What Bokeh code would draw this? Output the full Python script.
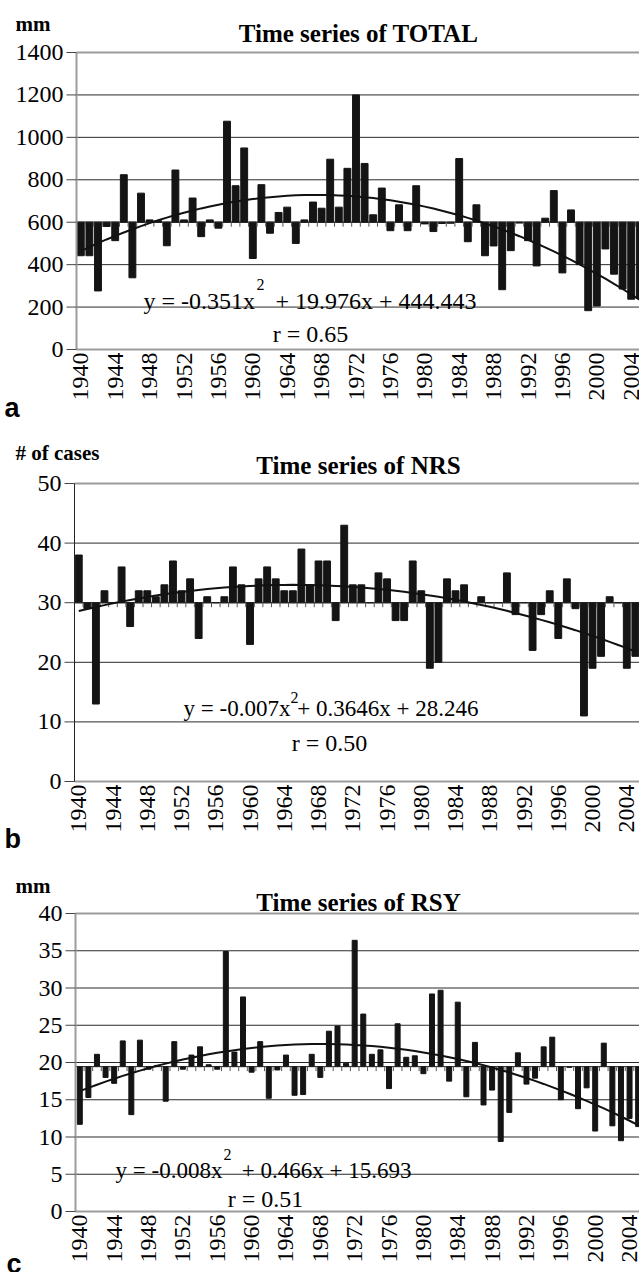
import math
import numpy as np
from bokeh.plotting import figure
from bokeh.layouts import column
from bokeh.models import Range1d, Label
from bokeh.core.properties import value
from bokeh.embed import file_html
from bokeh.resources import INLINE

# ---- data -------------------------------------------------------------
years = list(range(1940, 2006))

total_mm = [442, 442, 276, 580, 513, 824, 338, 737, 611, 607,
            489, 846, 611, 714, 532, 611, 572, 1076, 772, 950,
            429, 777, 548, 646, 671, 500, 611, 695, 666, 897,
            671, 854, 1200, 877, 635, 761, 560, 682, 560, 772,
            592, 556, 594, 595, 900, 508, 682, 442, 488, 282,
            466, 596, 513, 394, 619, 749, 361, 658, 400, 183,
            205, 474, 355, 285, 237, 240]

nrs_cases = [38, 29, 13, 32, 30, 36, 26, 32, 32, 31,
             33, 37, 32, 34, 24, 31, 30, 31, 36, 33,
             23, 34, 36, 34, 32, 32, 39, 33, 37, 37,
             27, 43, 33, 33, 30, 35, 34, 27, 27, 37,
             32, 19, 20, 34, 32, 33, 30, 31, 30, 30,
             35, 28, 30, 22, 28, 32, 24, 34, 29, 11,
             19, 21, 31, 30, 19, 21]

rsy_mm = [11.7, 15.3, 21.1, 18.0, 17.2, 22.9, 13.0, 23.0, 19.1, 19.6,
          14.8, 22.8, 19.1, 21.0, 22.1, 19.7, 19.1, 34.9, 21.4, 28.8,
          18.7, 22.8, 15.2, 19.0, 21.0, 15.6, 15.7, 21.1, 18.0, 24.2,
          24.9, 19.9, 36.4, 26.5, 21.1, 21.7, 16.5, 25.2, 20.7, 20.9,
          18.5, 29.2, 29.7, 17.5, 28.1, 15.4, 22.7, 14.3, 16.3, 9.4,
          13.3, 21.3, 17.1, 17.9, 22.1, 23.4, 15.0, 19.35, 13.8, 16.6,
          10.8, 22.6, 11.5, 9.5, 12.5, 11.4]

# horizontal axis crossing (bars hang from these)
total_base = 600
nrs_base = 30
rsy_base = 19.45

# polynomial trend coefficients (x = 1 for 1940)
total_fit = [-0.351, 19.976, 444.443]
nrs_fit = [-0.007, 0.3646, 28.246]
rsy_fit = [-0.008, 0.466, 15.693]

year_ticks = list(range(1940, 2005, 4))
total_ticks = list(range(0, 1401, 200))
nrs_ticks = list(range(0, 51, 10))
rsy_ticks = list(range(0, 41, 5))

SERIF = "Liberation Serif"
SANS = "Liberation Sans"
W = 639
GREY = "#9c9c9c"
DARK = "#2a2a2a"


def trend(fit):
    idx = np.arange(1, len(years) + 1)
    return fit[0] * idx ** 2 + fit[1] * idx + fit[2]


def panel(values, base, yticks, fit, bar_w, ax_px, top_px, plot_h, fig_h, px_year,
          axis_color, axis_w, texts):
    """One chart panel; the frame fills the figure and the plot area sits inside it."""
    ymax = yticks[-1]
    px_unit = plot_h / ymax
    x_left = years[0] - 0.5                      # category axis start
    x_right = x_left + (W - ax_px) / px_year
    x0 = x_left - ax_px / px_year
    y0 = -(fig_h - top_px - plot_h) / px_unit
    y1 = ymax + top_px / px_unit

    def dx(px):
        return px / px_year

    def dy(px):
        return px / px_unit

    p = figure(width=W, height=fig_h, x_range=Range1d(x0, x_right), y_range=Range1d(y0, y1),
               output_backend="svg", toolbar_location=None,
               x_axis_type=None, y_axis_type=None, min_border=0)
    p.outline_line_color = None
    p.background_fill_color = "white"
    p.border_fill_color = "white"
    p.grid.visible = False

    inner = yticks[1:-1]
    # horizontal grid
    p.segment(x0=[x_left] * len(inner), y0=inner, x1=[x_right] * len(inner), y1=inner,
              line_color=DARK, line_width=1)
    # plot-area top and bottom edges
    p.segment(x0=[x_left, x_left], y0=[0, ymax], x1=[x_right, x_right], y1=[0, ymax],
              line_color=GREY, line_width=2)

    # bars from the crossing value
    p.vbar(x=years, width=bar_w, bottom=base, top=values, color="#141414")

    # crossing line with category tick marks below it
    p.segment(x0=[x_left], y0=[base], x1=[x_right], y1=[base], line_color="#222222", line_width=1)
    bounds = [y - 0.5 for y in years] + [years[-1] + 0.5]
    p.segment(x0=bounds, y0=[base] * len(bounds), x1=bounds, y1=[base - dy(4.5)] * len(bounds),
              line_color="#555555", line_width=1)

    # trend curve
    p.line(years, trend(fit), line_color="#111111", line_width=2)

    # value axis
    p.segment(x0=[x_left], y0=[0], x1=[x_left], y1=[ymax], line_color=axis_color, line_width=axis_w)
    p.segment(x0=[x_left - dx(10)] * len(yticks), y0=yticks, x1=[x_left] * len(yticks), y1=yticks,
              line_color="#444444", line_width=1)
    p.text(x=[x_left - dx(13)] * len(yticks), y=yticks, text=[str(t) for t in yticks],
           text_align="right", text_baseline="middle", text_font=value(SERIF),
           text_font_size="24px", text_color="black")

    # year labels, reading upward
    p.text(x=year_ticks, y=[-dy(3)] * len(year_ticks), text=[str(t) for t in year_ticks],
           angle=math.pi / 2, text_align="right", text_baseline="middle",
           text_font=value(SERIF), text_font_size="24px", text_color="black")

    for sx, sy, text, size, opts in texts:
        p.add_layout(Label(x=sx, y=fig_h - sy, x_units="screen", y_units="screen",
                           text=text, text_font=opts.get("font", SERIF),
                           text_font_size=f"{size}px",
                           text_font_style="bold" if opts.get("bold") else "normal",
                           text_align=opts.get("align", "left"), text_baseline="alphabetic",
                           text_color="black"))
    return p


pa = panel(total_mm, total_base, total_ticks, total_fit, 0.8,
           76, 52, 297, 425, 8.6, GREY, 2,
           [(15, 23, "mm", 21, dict(bold=True)),
            (358, 33, "Time series of TOTAL", 25, dict(bold=True, align="center")),
            (143, 300, "y = -0.351x", 24, {}),
            (256, 284, "2", 16, {}),
            (476, 300, "+ 19.976x + 444.443", 24, dict(align="right")),
            (310, 333, "r = 0.65", 24, dict(align="center")),
            (4, 407, "a", 27, dict(bold=True, font=SANS))])

pb = panel(nrs_cases, nrs_base, nrs_ticks, nrs_fit, 0.8,
           74, 58, 298, 430, 8.5625, "#222222", 1,
           [(15, 27, "# of cases", 21, dict(bold=True)),
            (358, 40, "Time series of NRS", 25, dict(bold=True, align="center")),
            (183, 283, "y = -0.007x", 23, {}),
            (290, 272, "2", 16, {}),
            (478, 283, "+ 0.3646x + 28.246", 23, dict(align="right")),
            (329, 317, "r = 0.50", 24, dict(align="center")),
            (4, 413, "b", 27, dict(bold=True, font=SANS))])

pc = panel(rsy_mm, rsy_base, rsy_ticks, rsy_fit, 0.58,
           75, 58, 298, 417, 8.59, GREY, 2,
           [(15, 30, "mm", 21, dict(bold=True)),
            (358, 47, "Time series of RSY", 25, dict(bold=True, align="center")),
            (115, 315, "y = -0.008x", 23, {}),
            (223, 299, "2", 16, {}),
            (411, 315, "+ 0.466x + 15.693", 23, dict(align="right")),
            (265, 343, "r = 0.51", 24, dict(align="center")),
            (6, 408, "c", 27, dict(bold=True, font=SANS))])

layout = column(pa, pb, pc, spacing=0)
open("out.html", "w").write(file_html(layout, INLINE))
